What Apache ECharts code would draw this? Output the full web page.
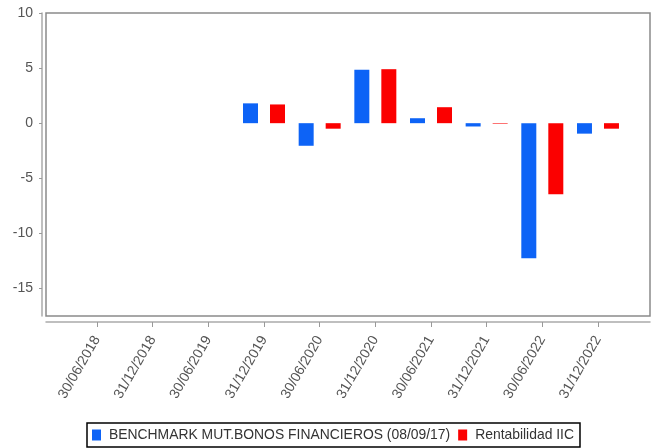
<!DOCTYPE html>
<html><head><meta charset="utf-8">
<script src="https://cdn.jsdelivr.net/npm/echarts@6/dist/echarts.min.js"></script>
<style>html,body{margin:0;padding:0;background:#fff}#c{width:653px;height:448px}</style>
</head><body><div id="c"></div>
<script>
const categories = ['30/06/2018','31/12/2018','30/06/2019','31/12/2019','30/06/2020','31/12/2020','30/06/2021','31/12/2021','30/06/2022','31/12/2022'];
const benchmarkName = 'BENCHMARK MUT.BONOS FINANCIEROS (08/09/17)';
const benchmark = [null,null,null,1.8,-2.05,4.85,0.45,-0.3,-12.25,-0.95];
const iicName = 'Rentabilidad IIC';
const iic = [null,null,null,1.7,-0.5,4.9,1.45,-0.05,-6.45,-0.5];
const yTicks = [-15,-10,-5,0,5,10];
const yMin = -17.5, yMax = 10;

const chart = echarts.init(document.getElementById('c'), null, {renderer:'canvas'});
const ff = 'Liberation Sans, Arial, sans-serif';
chart.setOption({
  animation:false,
  grid:[
    {left:46, right:3, top:13, bottom:132, show:true, borderColor:'#8a8a8a', borderWidth:1.5, backgroundColor:'#fff'},
    {left:69.2, right:27.2, top:13, bottom:132}
  ],
  xAxis:[
    {gridIndex:0, type:'value', min:0, max:1, offset:6,
     axisLine:{show:true, onZero:false, lineStyle:{color:'#aaa', width:1.5}}, axisTick:{show:false}, axisLabel:{show:false}, splitLine:{show:false}},
    {gridIndex:1, type:'category', data:categories, offset:6,
     axisLine:{show:false, onZero:false},
     axisTick:{show:true, alignWithLabel:true, length:5, lineStyle:{color:'#999'}},
     axisLabel:{rotate:60, margin:15, interval:0, fontFamily:ff, fontSize:14, color:'#555'}}
  ],
  yAxis:[
    {gridIndex:0, type:'value', min:yMin, max:yMax, offset:4,
     axisLine:{show:true, onZero:false, lineStyle:{color:'#aaa', width:1.5}},
     axisTick:{show:true, length:3, customValues:yTicks, lineStyle:{color:'#999'}},
     axisLabel:{customValues:yTicks, margin:9, fontFamily:ff, fontSize:14, color:'#555'},
     splitLine:{show:false}},
    {gridIndex:1, type:'value', min:yMin, max:yMax, show:false, splitLine:{show:false}}
  ],
  legend:{
    left:87, top:423, orient:'horizontal', icon:'rect', itemWidth:9, itemHeight:11, itemGap:8,
    borderColor:'#000', borderWidth:1.5, padding:[5,6,5,5],
    textStyle:{fontFamily:ff, fontSize:13.9, color:'#333', padding:[0,0,0,3]},
    data:[benchmarkName, iicName]
  },
  series:[
    {name:benchmarkName, type:'bar', xAxisIndex:1, yAxisIndex:1, data:benchmark, barWidth:15, barGap:'80%', itemStyle:{color:'#0d63f6'}},
    {name:iicName, type:'bar', xAxisIndex:1, yAxisIndex:1, data:iic, barWidth:15, barGap:'80%', itemStyle:{color:'#fb0000'}}
  ]
});
</script></body></html>
